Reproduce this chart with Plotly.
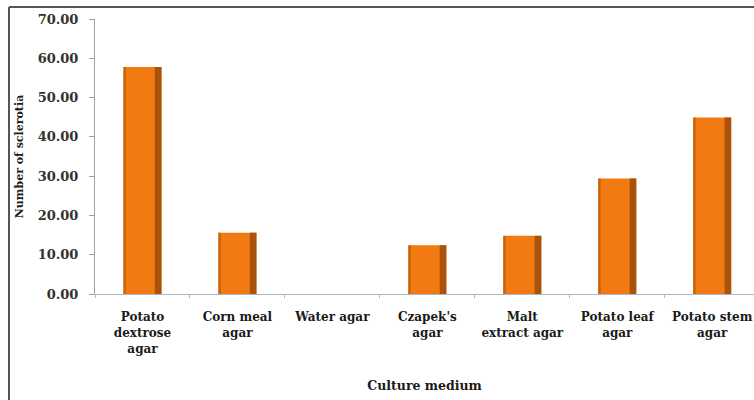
import plotly.graph_objects as go

categories = ["Potato<br>dextrose<br>agar", "Corn meal<br>agar", "Water agar",
              "Czapek's<br>agar", "Malt<br>extract agar", "Potato leaf<br>agar",
              "Potato stem<br>agar"]
sclerotia = [57.8, 15.6, 0.0, 12.4, 14.8, 29.4, 44.9]
y_ticks = [0, 10, 20, 30, 40, 50, 60, 70]

font_serif = "DejaVu Serif"

fig = go.Figure()
# main orange body
fig.add_trace(go.Bar(
    x=categories, y=sclerotia, width=0.4, offset=-0.2,
    marker=dict(color="#F27A12", line=dict(width=0)),
))
# darker right-hand shading (3-D look)
fig.add_trace(go.Bar(
    x=categories, y=sclerotia, width=0.07, offset=0.13,
    marker=dict(color="#A9520C", line=dict(width=0)),
))
# subtle darker left edge
fig.add_trace(go.Bar(
    x=categories, y=sclerotia, width=0.025, offset=-0.2,
    marker=dict(color="#C8620C", line=dict(width=0)),
))

fig.update_layout(
    width=754, height=400,
    margin=dict(l=95, r=0, t=19, b=106),
    plot_bgcolor="white", paper_bgcolor="white",
    showlegend=False,
    barmode="overlay",
    font=dict(family=font_serif, color="#222222"),
)
fig.update_xaxes(
    type="category", range=[-0.5, 6.44], automargin=False,
    showline=True, linecolor="#A9B8C8", linewidth=1,
    ticks="outside", tickson="boundaries", ticklen=3, tickcolor="#A9B8C8",
    ticklabelstandoff=12,
    tickfont=dict(family=font_serif, size=12, color="#1a1a1a", weight="bold"),
    title=dict(text="<b>Culture medium</b>", font=dict(family=font_serif, size=12.5, color="#1a1a1a"), standoff=26),
    showgrid=False,
)
fig.update_yaxes(
    range=[0, 70], tickvals=y_ticks, tickformat=".2f", automargin=False,
    showline=True, linecolor="#A0A0A0", linewidth=1,
    ticks="outside", ticklen=5, tickcolor="#A0A0A0",
    ticklabelstandoff=8,
    tickfont=dict(family=font_serif, size=13, color="#333333", weight="bold"),
    title=dict(text="<b>Number of sclerotia</b>", font=dict(family=font_serif, size=11, color="#1a1a1a"), standoff=11),
    showgrid=False, zeroline=False,
)

# outer frame (left and top edges)
fig.add_shape(type="line", xref="paper", yref="paper", x0=-0.1305, x1=-0.1305, y0=1.0436, y1=-0.4,
              line=dict(color="#555555", width=2))
fig.add_shape(type="line", xref="paper", yref="paper", x0=-0.1305, x1=1.05, y0=1.0436, y1=1.0436,
              line=dict(color="#555555", width=2))

fig.write_html("out.html", config={"displayModeBar": False},
               post_script="document.body.style.margin='0';")
